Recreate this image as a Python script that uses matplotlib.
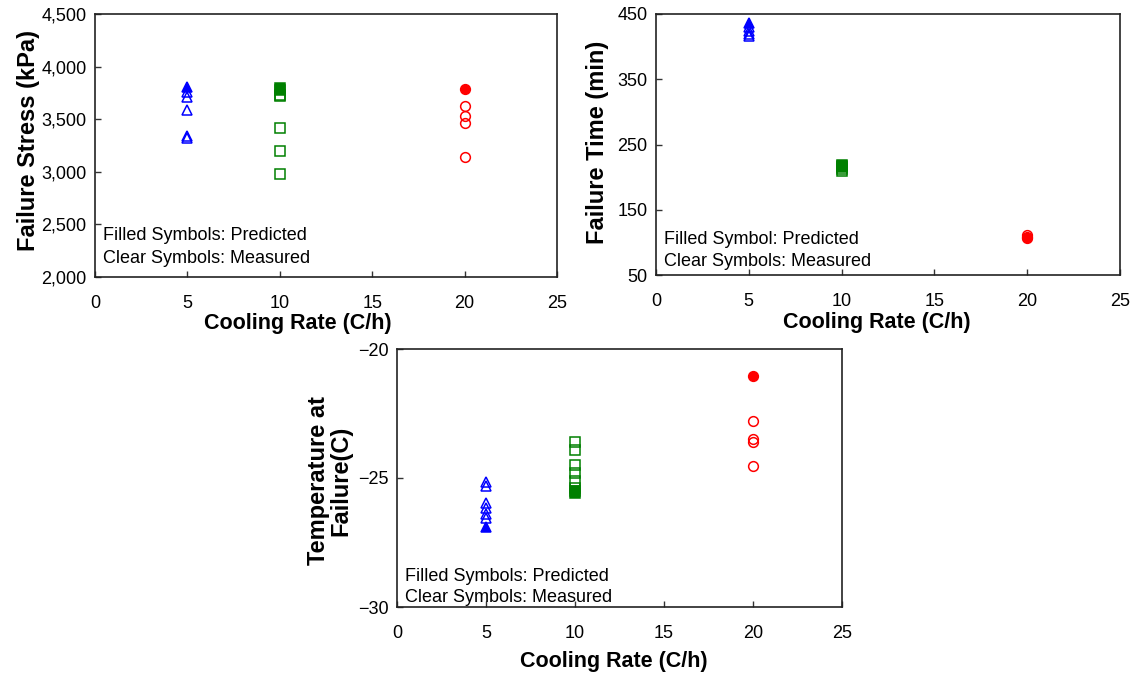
import matplotlib
matplotlib.use("Agg")
import matplotlib.pyplot as plt

plt.rcParams['font.family'] = ['Liberation Sans', 'DejaVu Sans']

# Cooling rates (C/h)
rates = [5, 10, 20]

# Failure stress (kPa)
stress_pred = {5: [3810], 10: [3800, 3780], 20: [3790]}
stress_meas = {5: [3760, 3710, 3590, 3340, 3320],
               10: [3730, 3720, 3420, 3200, 2980],
               20: [3630, 3530, 3460, 3140]}

# Failure time (min)
time_pred = {5: [436], 10: [219, 215], 20: [106]}
time_meas = {5: [430, 424, 420, 416],
             10: [217, 213, 210],
             20: [111, 108]}

# Temperature at failure (C)
temp_pred = {5: [-26.9], 10: [-25.5, -25.6], 20: [-21.05]}
temp_meas = {5: [-25.15, -25.3, -25.95, -26.15, -26.4, -26.55],
             10: [-23.6, -23.9, -24.5, -24.8, -25.1, -25.4],
             20: [-22.8, -23.5, -23.6, -24.55]}

styles = {5: ('^', '#0000FF', 7.5), 10: ('s', '#008000', 6.8), 20: ('o', '#FF0000', 7)}

fig = plt.figure(figsize=(11.48, 6.77), dpi=100)
W, H = 1148, 677


def add_ax(l, t, r, b):
    return fig.add_axes([l / W, 1 - b / H, (r - l) / W, (b - t) / H])


def draw(ax, pred, meas):
    for r in rates:
        m, c, ms = styles[r]
        ax.plot([r] * len(meas[r]), meas[r], linestyle='none', marker=m, ms=ms,
                mfc='none', mec=c, mew=1.1)
        ax.plot([r] * len(pred[r]), pred[r], linestyle='none', marker=m, ms=ms,
                mfc=c, mec=c, mew=1.1)
    ax.set_xlim(0, 25)
    ax.set_xticks([0, 5, 10, 15, 20, 25])
    ax.tick_params(direction='in', length=4, width=1, labelsize=13, color='#333333')
    ax.tick_params(axis='x', pad=13)
    ax.tick_params(axis='y', pad=6)
    for s in ax.spines.values():
        s.set_linewidth(1.2)
        s.set_color('#222222')


xlabel_kw = dict(fontsize=15.5, fontweight='bold')
ylabel_kw = dict(fontsize=17, fontweight='bold')
note_kw = dict(fontsize=13, va='center', ha='left')

# Failure stress
ax1 = add_ax(95, 14, 557, 277)
draw(ax1, stress_pred, stress_meas)
ax1.set_ylim(2000, 4500)
ax1.set_yticks([2000, 2500, 3000, 3500, 4000, 4500])
ax1.set_yticklabels(['2,000', '2,500', '3,000', '3,500', '4,000', '4,500'])
ax1.set_xlabel('Cooling Rate (C/h)', **xlabel_kw)
ax1.xaxis.set_label_coords(0.44, -0.135)
ax1.set_ylabel('Failure Stress (kPa)', **ylabel_kw)
ax1.yaxis.set_label_coords(-0.118, 0.52)
ax1.text(0.018, 0.156, 'Filled Symbols: Predicted', transform=ax1.transAxes, **note_kw)
ax1.text(0.018, 0.072, 'Clear Symbols: Measured', transform=ax1.transAxes, **note_kw)

# Failure time
ax2 = add_ax(656, 14, 1120, 275)
draw(ax2, time_pred, time_meas)
ax2.set_ylim(50, 450)
ax2.set_yticks([50, 150, 250, 350, 450])
ax2.set_xlabel('Cooling Rate (C/h)', **xlabel_kw)
ax2.xaxis.set_label_coords(0.475, -0.143)
ax2.set_ylabel('Failure Time (min)', **ylabel_kw)
ax2.yaxis.set_label_coords(-0.102, 0.51)
ax2.text(0.018, 0.137, 'Filled Symbol: Predicted', transform=ax2.transAxes, **note_kw)
ax2.text(0.018, 0.053, 'Clear Symbols: Measured', transform=ax2.transAxes, **note_kw)

# Temperature at failure
ax3 = add_ax(397, 349, 842, 607)
draw(ax3, temp_pred, temp_meas)
ax3.set_ylim(-30, -20)
ax3.set_yticks([-30, -25, -20])
ax3.set_yticklabels(['\u221230', '\u221225', '\u221220'])
ax3.set_xlabel('Cooling Rate (C/h)', **xlabel_kw)
ax3.xaxis.set_label_coords(0.487, -0.172)
ax3.set_ylabel('Temperature at\nFailure(C)', linespacing=1.0, **ylabel_kw)
ax3.yaxis.set_label_coords(-0.1, 0.49)
ax3.text(0.018, 0.12, 'Filled Symbols: Predicted', transform=ax3.transAxes, **note_kw)
ax3.text(0.018, 0.035, 'Clear Symbols: Measured', transform=ax3.transAxes, **note_kw)

fig.savefig('out.png', dpi=100)
